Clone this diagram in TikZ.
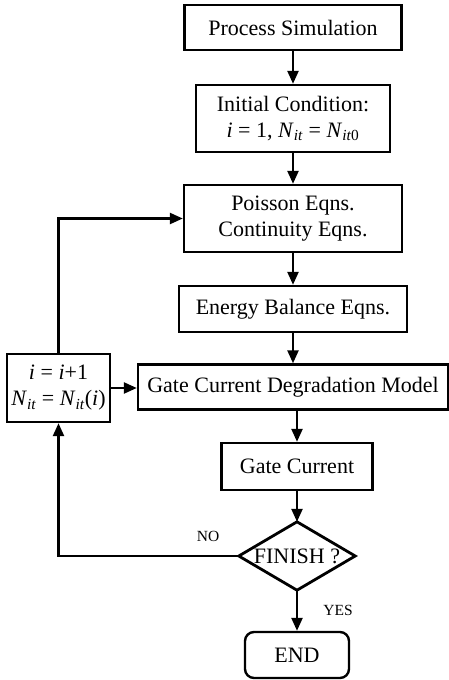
\documentclass[tikz,border=0pt]{standalone}
\usepackage{fontspec}
\setmainfont{Liberation Serif}
\usetikzlibrary{arrows.meta}

\begin{document}
\begin{tikzpicture}[x=1pt,y=-1pt,
  blk/.style={draw,line width=2.4pt,inner sep=0pt,align=center,
    font=\fontsize{22}{26}\selectfont},
  lbl/.style={font=\fontsize{15.5}{17}\selectfont},
  flow/.style={line width=2.4pt,-{Triangle[length=13pt,width=11pt]}}]
  \useasboundingbox (0,0) rectangle (449,680);
  % main column
  \node[blk,minimum width=217pt,minimum height=45pt] (proc) at (293,27.5) {Process Simulation};
  \node[blk,minimum width=194pt,minimum height=67pt] (init) at (293,118.5)
     {Initial Condition:\\\textit{i} = 1, \textit{N}\textsubscript{\textit{it}} = \textit{N}\textsubscript{\textit{it}0}};
  \node[blk,minimum width=218pt,minimum height=67pt] (pois) at (293,218.5)
     {Poisson Eqns.\\Continuity Eqns.};
  \node[blk,minimum width=228pt,minimum height=46pt] (enbal) at (293,309) {Energy Balance Eqns.};
  \node[blk,minimum width=310pt,minimum height=45pt] (gdm) at (293,387) {Gate Current Degradation Model};
  \node[blk,minimum width=151pt,minimum height=47pt] (gate) at (297,466.5) {Gate Current};
  % decision
  \node[font=\fontsize{22}{26}\selectfont,inner sep=0pt,minimum width=116pt,minimum height=68pt] (fin) at (297,556) {FINISH ?};
  \draw[line width=2.8pt,line join=miter] (fin.north) -- (fin.east) -- (fin.south) -- (fin.west) -- cycle;
  \node[blk,rounded corners=9pt,minimum width=104pt,minimum height=46pt] (end) at (297,655) {END};
  % update box
  \node[blk,minimum width=103pt,minimum height=68pt] (upd) at (58.5,388)
     {\textit{i} = \textit{i}+1\\\textit{N}\textsubscript{\textit{it}} = \textit{N}\textsubscript{\textit{it}}(\textit{i})};
  % arrows
  \draw[flow] (proc) -- (init);
  \draw[flow] (init) -- (pois);
  \draw[flow] (pois) -- (enbal);
  \draw[flow] (enbal) -- (gdm);
  \draw[flow] (gdm.south -| gate.north) -- (gate.north);
  \draw[flow] (gate) -- (fin.north);
  \draw[flow] (fin.south) -- (end);
  \draw[flow] (fin.west) -| (upd.south);
  \draw[flow] (upd.north) |- (pois.west);
  \draw[flow] (upd.east) -- (upd.east -| gdm.west);
  \node[lbl] (no) at (208,536) {NO};
  \node[lbl] (yes) at (338,610) {YES};
\end{tikzpicture}
\end{document}
